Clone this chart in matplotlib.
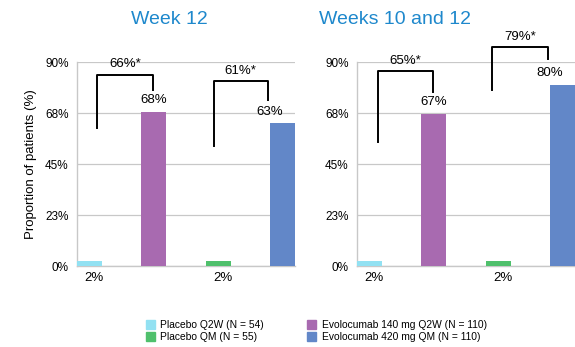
import matplotlib
matplotlib.use("Agg")
import matplotlib.pyplot as plt

plt.rcParams['font.family'] = ['Liberation Sans', 'DejaVu Sans']

# groups and values
groups = ['Placebo Q2W (N = 54)', 'Evolocumab 140 mg Q2W (N = 110)',
          'Placebo QM (N = 55)', 'Evolocumab 420 mg QM (N = 110)']
colors = ['#92E1F2', '#A86AB0', '#4FC06C', '#6287C8']
week12 = [2, 68, 2, 63]
week10_12 = [2, 67, 2, 80]
diff_week12 = ['66%*', '61%*']
diff_week10_12 = ['65%*', '79%*']
yticks = [0, 22.5, 45, 67.5, 90]
ytick_labels = ['0%', '23%', '45%', '68%', '90%']

fig = plt.figure(figsize=(5.75, 3.47), dpi=100)
ax1 = fig.add_axes([0.1339, 0.2334, 0.3791, 0.5879])
ax2 = fig.add_axes([0.6209, 0.2334, 0.3791, 0.5879])

# bracket geometry per panel: (x_left, y_left_bottom, y_top, x_right, y_right_bottom)
brackets = {
    0: [(0.12, 61, 84.3, 0.99, 77.6), (1.93, 53, 81.6, 2.77, 73.2)],
    1: [(0.13, 54.7, 86, 0.99, 76.8), (1.91, 77.6, 96.6, 2.77, 91.3)],
}

width = 0.39
for i, (ax, vals, diffs) in enumerate([(ax1, week12, diff_week12),
                                       (ax2, week10_12, diff_week10_12)]):
    x = range(len(vals))
    ax.bar(x, vals, width=width, color=colors, zorder=3)
    ax.set_xlim(-width / 2, 3 + width / 2)
    ax.set_ylim(0, 90)
    ax.set_yticks(yticks)
    ax.set_yticklabels(ytick_labels, fontsize=8.5)
    ax.tick_params(axis='y', length=0, pad=6)
    ax.set_xticks([])
    ax.grid(axis='y', color='#C8C8C8', linewidth=0.9, zorder=0)
    for side in ['top', 'right']:
        ax.spines[side].set_visible(False)
    for side in ['left', 'bottom']:
        ax.spines[side].set_color('#C8C8C8')
        ax.spines[side].set_linewidth(1.0)

    # value labels: placebo below the axis, active above the bars
    for j in (0, 2):
        ax.text(j + 0.07, -2.5, f'{vals[j]}%', ha='center', va='top',
                fontsize=9.5, clip_on=False)
    ax.text(1, vals[1] + 2.5, f'{vals[1]}%', ha='center', va='bottom',
            fontsize=9.5, zorder=4)
    ax.text(2.8, vals[3] + 2.5, f'{vals[3]}%', ha='center', va='bottom',
            fontsize=9.5, zorder=4)

    for (xl, yl, yt, xr, yr), d in zip(brackets[i], diffs):
        ax.plot([xl, xl, xr, xr], [yl, yt, yt, yr], color='black',
                linewidth=1.4, clip_on=False, zorder=5)
        ax.text((xl + xr) / 2, yt + 2, d, ha='center', va='bottom',
                fontsize=9.5, clip_on=False, zorder=5)

ax1.set_ylabel('Proportion of patients (%)', fontsize=9.5, labelpad=6)

fig.text(0.294, 0.943, 'Week 12', color='#1E88CC', fontsize=14,
         ha='center', va='center')
fig.text(0.687, 0.943, 'Weeks 10 and 12', color='#1E88CC', fontsize=14,
         ha='center', va='center')

# legend in two columns
handles = [plt.Rectangle((0, 0), 1, 1, color=c) for c in colors]
order = [0, 2, 1, 3]
fig.legend([handles[k] for k in order], [groups[k] for k in order],
           ncol=2, loc='center', bbox_to_anchor=(0.55, 0.046), frameon=False,
           fontsize=7.4, handlelength=0.9, handleheight=0.9, handletextpad=0.5,
           columnspacing=4.2, labelspacing=0.15)

fig.savefig('out.png', dpi=100)
